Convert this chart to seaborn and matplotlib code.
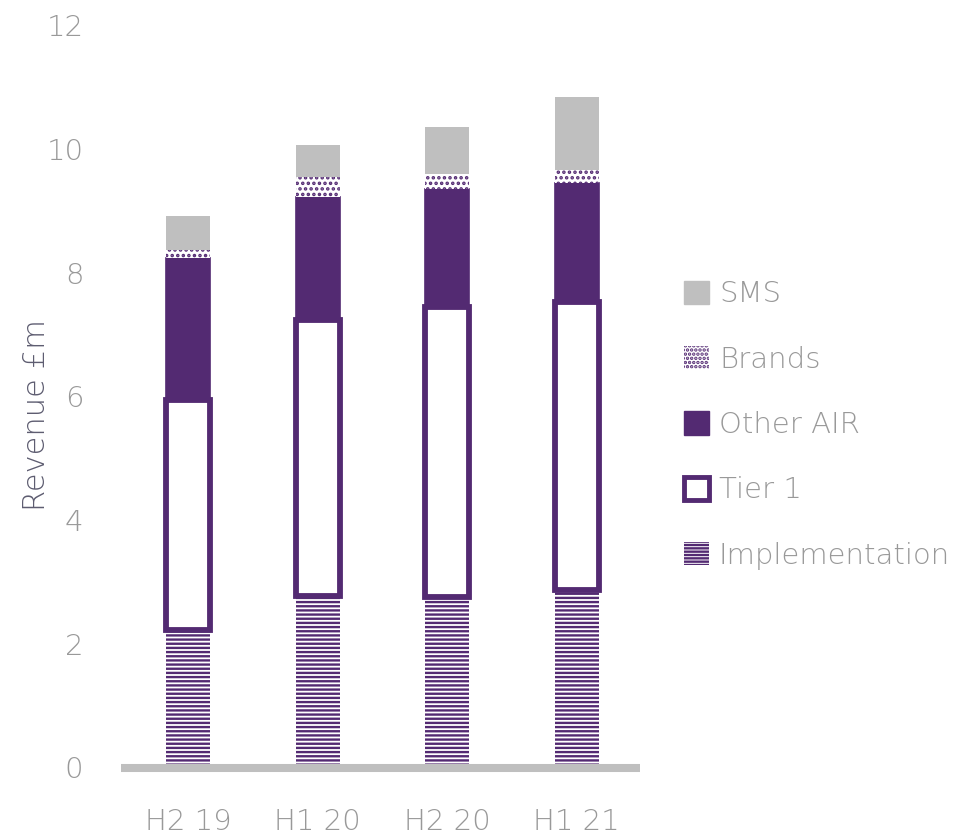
import matplotlib
matplotlib.use("Agg")
import matplotlib.pyplot as plt
from matplotlib.patches import Patch
import numpy as np
import seaborn as sns

# Half-year revenue split (£m)
periods = ["H2 19", "H1 20", "H2 20", "H1 21"]
implementation = [2.22, 2.77, 2.75, 2.87]
tier1 = [3.72, 4.46, 4.69, 4.65]
other_air = [2.30, 1.99, 1.91, 1.92]
brands = [0.13, 0.32, 0.24, 0.21]
sms = [0.55, 0.52, 0.76, 1.18]
y_ticks = [0, 2, 4, 6, 8, 10, 12]

PURPLE = "#532a72"
GREY = "#bfbfbf"
TEXT = "#999999"
LABEL = "#5d5c70"
FS = 21

sns.set_style("white")
plt.rcParams["font.family"] = ["DejaVu Sans"]
plt.rcParams["hatch.color"] = PURPLE
plt.rcParams["hatch.linewidth"] = 1.7

fig = plt.figure(figsize=(9.78, 8.35), dpi=100)
ax = fig.add_axes([121 / 978, 67.5 / 835, 519 / 978, 742.5 / 835])

W = 0.34
bottom = np.zeros(len(periods))

# Implementation: striped bars
sns.barplot(x=periods, y=implementation, ax=ax, width=W, color="white",
            saturation=1, edgecolor=PURPLE, linewidth=0, hatch="----",
            errorbar=None, bottom=bottom.copy())
bottom += np.array(implementation)

# Tier 1: outlined, white-filled
sns.barplot(x=periods, y=tier1, ax=ax, width=W, color="white",
            saturation=1, edgecolor=PURPLE, linewidth=4.2,
            errorbar=None, bottom=bottom.copy())
bottom += np.array(tier1)

# Other AIR: solid purple
sns.barplot(x=periods, y=other_air, ax=ax, width=W, color=PURPLE,
            saturation=1, edgecolor=PURPLE, linewidth=1.2,
            errorbar=None, bottom=bottom.copy())
bottom += np.array(other_air)

# Brands: dotted
sns.barplot(x=periods, y=brands, ax=ax, width=W, color="white",
            saturation=1, edgecolor=PURPLE, linewidth=0, hatch="...",
            errorbar=None, bottom=bottom.copy())
bottom += np.array(brands)

# SMS: grey
sns.barplot(x=periods, y=sms, ax=ax, width=W, color=GREY,
            saturation=1, linewidth=0, errorbar=None, bottom=bottom.copy())

ax.set_xlim(-0.52, 3.49)
ax.set_ylim(0, 12)
ax.set_yticks(y_ticks)
ax.set_yticklabels([str(t) for t in y_ticks])
for s in ax.spines.values():
    s.set_visible(False)
ax.axhline(0, color=GREY, lw=5.8, solid_capstyle="butt", clip_on=False, zorder=5)

ax.tick_params(axis="both", length=0, labelsize=FS, labelcolor=TEXT)
ax.tick_params(axis="y", pad=27)
ax.tick_params(axis="x", pad=29)
for lab in ax.get_xticklabels() + ax.get_yticklabels():
    lab.set_fontweight("light")

ax.set_xlabel("")
ax.set_ylabel("Revenue £m", fontsize=22, color=LABEL, fontweight="light")
ax.yaxis.set_label_coords(-0.135, 0.475)

handles = [
    Patch(facecolor=GREY, edgecolor=GREY, label="SMS"),
    Patch(facecolor="white", edgecolor=PURPLE, linewidth=0, hatch="....", label="Brands"),
    Patch(facecolor=PURPLE, edgecolor=PURPLE, label="Other AIR"),
    Patch(facecolor="white", edgecolor=PURPLE, linewidth=3.5, label="Tier 1"),
    Patch(facecolor="white", edgecolor=PURPLE, linewidth=0, hatch="-----", label="Implementation"),
]
leg = fig.legend(handles=handles, loc="center left",
                 bbox_to_anchor=(684 / 978, 1 - 425 / 835), frameon=False,
                 fontsize=FS, handlelength=0.85, handleheight=0.85,
                 handletextpad=0.35, labelspacing=1.28, borderpad=0,
                 borderaxespad=0)
for t in leg.get_texts():
    t.set_color(TEXT)
    t.set_fontweight("light")

fig.savefig("out.png", dpi=100)
